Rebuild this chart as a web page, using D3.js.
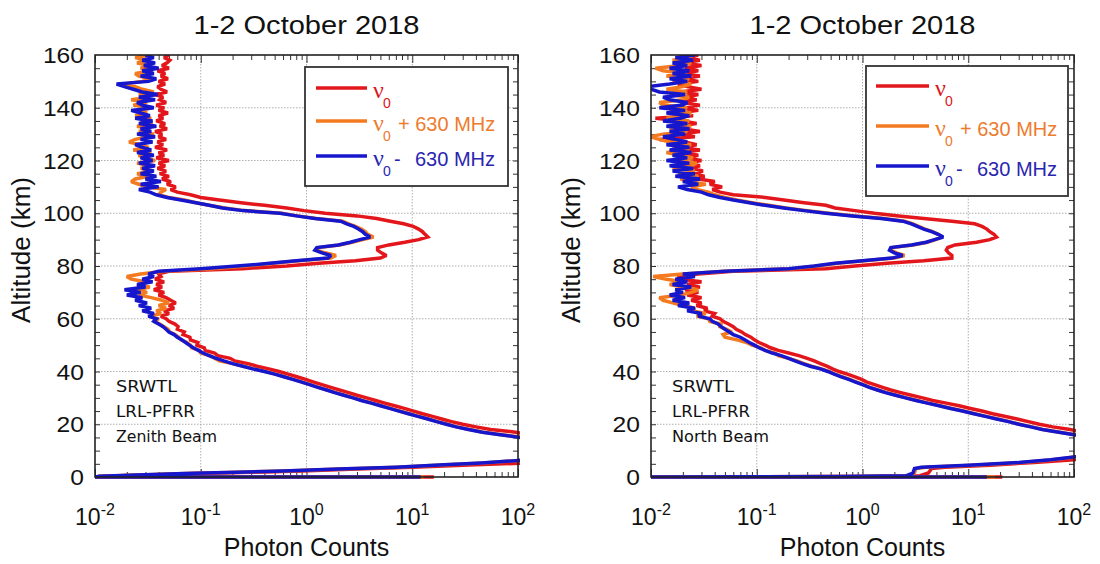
<!DOCTYPE html>
<html><head><meta charset="utf-8">
<script src="https://cdn.jsdelivr.net/npm/d3@7"></script>
<style>body{margin:0;background:#fff} svg{display:block}</style>
</head><body><svg id="c" width="1100" height="564"></svg>
<script>
// ---------------- DATA ----------------
const panelTitles = ["1-2 October 2018", "1-2 October 2018"];
const xTickExponents = [-2, -1, 0, 1, 2];
const yTicks = [0, 20, 40, 60, 80, 100, 120, 140, 160];
const notesZenith = ["SRWTL", "LRL-PFRR", "Zenith Beam"];
const notesNorth = ["SRWTL", "LRL-PFRR", "North Beam"];

// altitude samples (km)
const altLowZenith = [0,0,0.3,0.8,1.3,1.8,2.3,3,3.7,4.6,5.3,6.2,7];
const altLowNorth  = [0,0,0.2,0.5,1.5,3.2,3.7,4.5,5.5,6.5,7.5];
const altUpper = [8,9,10,11,12,13,14,15,16,17,18,19,20,21,22,23,24,25,26,27,28,29,30,31,32,33,34,35,36,37,38,39,40,
 41,42,43,44,45,46,47,48,49,50,51,52,53,54,55,56,57,58,59,60,61,62,63,64,65,66,67,68,69,70,71,72,73,74,75,76,77,78,79,80,
 81,82,83,84,85,86,87,88,89,90,91,92,93,94,95,96,97,98,99,100,101,102,103,104,105,106,107,108,109,110,111,112,113,114,115,
 116,117,118,119,120,121,122,123,124,125,126,127,128,129,130,131,132,133,134,135,136,137,138,139,140,141,142,143,144,145,
 146,147,148,149,150,151,152,153,154,155,156,157,158,159,160];

// Zenith beam photon counts
const zenithRed = [16,0.01,0.012,0.03,0.09,0.3,0.9,3,10,40,115,250,400,
 600,800,900,800,600,400,280,190,130,95,
 55,40,30,23.5,19,15.5,12.5,10.3,8.4,6.8,
 5.5,4.5,3.7,3.0,2.5,2.05,1.7,1.4,1.17,0.98,
 0.81,0.67,0.55,0.44,0.34,0.28,0.21,0.19,0.145,0.135,
 0.11,0.108,0.092,0.094,0.08,0.079,0.068,0.07,0.06,0.061,
 0.057,0.05,0.047,0.042,0.05,0.045,0.056,0.05,0.058,0.052,
 0.047,0.04,0.045,0.036,0.043,0.038,0.045,0.037,0.042,0.04,
 0.05,0.25,0.65,1.3,2.9,5.0,5.7,5.1,4.7,4.7,
 6.0,8.5,11.5,14,13.2,12.5,11.5,10.2,8.3,6.2,
 4.6,3.0,1.5,0.95,0.65,0.4,0.24,0.15,0.1,0.08,
 0.06,0.052,0.058,0.048,0.052,0.043,0.05,0.041,0.047,0.039,
 0.046,0.04,0.05,0.038,0.045,0.04,0.048,0.037,0.044,0.039,
 0.047,0.04,0.043,0.037,0.048,0.041,0.046,0.038,0.044,0.04,
 0.049,0.04,0.045,0.038,0.047,0.041,0.044,0.037,0.048,0.042,
 0.039,0.046,0.04,0.049,0.042,0.046,0.039,0.05,0.043,0.048,
 0.051,0.045,0.05];
const zenithOrange = [13,0.01,0.011,0.026,0.072,0.23,0.62,2.1,7.2,21,47,97,185,
 360,620,720,620,460,310,195,110,70,47,
 35,26.5,21.5,17.3,14.2,11.5,9.4,7.6,6.2,5.1,
 4.2,3.35,2.8,2.3,1.88,1.57,1.3,1.09,0.92,0.75,
 0.62,0.51,0.41,0.32,0.255,0.2,0.15,0.135,0.122,0.1,
 0.097,0.082,0.08,0.074,0.065,0.062,0.057,0.051,0.049,0.045,
 0.041,0.036,0.04,0.034,0.042,0.038,0.047,0.04,0.05,0.043,
 0.034,0.026,0.031,0.025,0.033,0.026,0.03,0.022,0.02,0.027,
 0.045,0.13,0.27,0.48,0.85,1.7,1.9,1.5,1.25,1.3,
 2.05,2.7,3.4,4.3,3.8,3.6,3.3,2.9,2.5,2.2,
 1.25,0.82,0.58,0.26,0.17,0.12,0.09,0.07,0.05,0.04,
 0.042,0.047,0.03,0.026,0.022,0.024,0.032,0.025,0.035,0.027,
 0.033,0.025,0.037,0.028,0.026,0.034,0.023,0.032,0.027,0.021,
 0.024,0.032,0.036,0.026,0.033,0.025,0.035,0.027,0.034,0.024,
 0.031,0.026,0.035,0.023,0.031,0.022,0.033,0.026,0.036,0.028,
 0.024,0.019,0.028,0.034,0.026,0.024,0.035,0.027,0.033,0.025,
 0.031,0.024,0.033];
const zenithBlue = [12,0.01,0.011,0.025,0.07,0.22,0.6,2,7,20,45,95,180,
 350,600,700,600,450,300,190,105,68,46,
 34,26,21,17,14,11.3,9.2,7.5,6.1,5.0,
 4.1,3.3,2.75,2.25,1.85,1.55,1.28,1.07,0.9,0.74,
 0.61,0.5,0.4,0.31,0.25,0.2,0.165,0.14,0.12,0.105,
 0.095,0.085,0.078,0.072,0.066,0.06,0.056,0.05,0.047,0.044,
 0.04,0.036,0.038,0.032,0.036,0.028,0.034,0.026,0.031,0.024,
 0.028,0.02,0.027,0.019,0.03,0.025,0.035,0.028,0.036,0.032,
 0.04,0.1,0.22,0.45,0.8,1.6,1.7,1.4,1.2,1.25,
 2.0,2.6,3.2,4.0,3.6,3.4,3.1,2.8,2.4,2.1,
 1.2,0.8,0.56,0.25,0.16,0.12,0.09,0.065,0.048,0.038,
 0.033,0.026,0.04,0.027,0.042,0.03,0.038,0.027,0.036,0.028,
 0.037,0.026,0.035,0.027,0.036,0.025,0.034,0.028,0.024,0.035,
 0.027,0.037,0.025,0.034,0.027,0.038,0.026,0.035,0.024,0.033,
 0.027,0.022,0.036,0.028,0.025,0.037,0.026,0.039,0.028,0.023,
 0.019,0.016,0.032,0.038,0.027,0.036,0.028,0.04,0.029,0.037,
 0.028,0.036,0.03];

// North beam photon counts
const northRed = [21,0.01,1.0,3.5,4.2,4.5,6,16,42,100,160,
 180,350,600,700,600,450,320,220,160,120,
 92,63,47,37,29,22,17,13.5,10.5,8.2,
 6.2,4.6,3.7,2.9,2.3,1.85,1.55,1.3,1.1,0.98,
 0.85,0.72,0.6,0.52,0.46,0.4,0.35,0.3,0.25,0.2,
 0.16,0.135,0.12,0.105,0.095,0.088,0.078,0.072,0.064,0.06,
 0.054,0.048,0.045,0.038,0.04,0.032,0.034,0.027,0.03,0.024,
 0.03,0.022,0.028,0.021,0.029,0.022,0.03,0.019,0.018,0.028,
 0.06,0.45,0.85,1.7,3.8,7.0,7.0,6.5,6.2,6.4,
 7.5,12,16,18.5,17.5,16,15,13.5,11.5,7,
 3.8,2.2,1.3,0.85,0.55,0.45,0.28,0.18,0.12,0.06,
 0.045,0.038,0.047,0.036,0.04,0.028,0.032,0.025,0.031,0.024,
 0.029,0.022,0.03,0.021,0.028,0.02,0.029,0.019,0.027,0.021,
 0.012,0.026,0.019,0.029,0.02,0.017,0.027,0.02,0.011,0.025,
 0.018,0.028,0.02,0.029,0.019,0.027,0.021,0.028,0.019,0.03,
 0.022,0.018,0.028,0.02,0.029,0.019,0.028,0.021,0.03,0.02,
 0.029,0.022,0.028];
const northOrange = [18,0.01,0.8,2.8,3.1,3.2,4.0,11,32,63,98,
 140,310,520,560,460,330,225,155,105,73,
 51,40,30.5,24.5,19,14.8,11.5,9,7,5.4,
 4.2,3.3,2.6,2.1,1.7,1.4,1.18,1.02,0.88,0.76,
 0.64,0.55,0.48,0.41,0.33,0.28,0.24,0.2,0.16,0.15,
 0.12,0.11,0.09,0.08,0.065,0.05,0.048,0.058,0.052,0.045,
 0.046,0.036,0.035,0.027,0.033,0.024,0.026,0.02,0.016,0.013,
 0.012,0.019,0.024,0.028,0.02,0.015,0.02,0.014,0.0105,0.02,
 0.05,0.22,0.37,0.58,1.05,2.0,2.5,2.1,1.85,1.9,
 3.0,4.1,4.9,5.7,5.2,4.6,3.9,3.4,3.0,2.5,
 1.6,0.85,0.48,0.3,0.19,0.13,0.09,0.065,0.05,0.04,
 0.035,0.027,0.024,0.033,0.022,0.019,0.028,0.018,0.026,0.016,
 0.024,0.027,0.017,0.025,0.019,0.014,0.023,0.016,0.024,0.015,
 0.012,0.0098,0.013,0.022,0.015,0.024,0.016,0.023,0.014,0.021,
 0.024,0.015,0.022,0.013,0.012,0.02,0.023,0.015,0.022,0.014,
 0.02,0.024,0.016,0.023,0.014,0.022,0.013,0.011,0.019,0.024,
 0.016,0.023,0.025];
const northBlue = [15,0.01,0.6,2.6,3.0,3.1,3.6,10,30,60,95,
 130,300,500,550,450,320,220,150,100,72,
 50,39,30,24,18.5,14.5,11.3,8.8,6.8,5.3,
 4.1,3.2,2.55,2.05,1.65,1.38,1.16,1.0,0.86,0.74,
 0.63,0.54,0.47,0.4,0.32,0.27,0.23,0.2,0.17,0.14,
 0.12,0.105,0.095,0.085,0.077,0.07,0.06,0.055,0.05,0.046,
 0.043,0.038,0.036,0.028,0.03,0.022,0.026,0.018,0.023,0.016,
 0.021,0.015,0.02,0.017,0.024,0.016,0.022,0.017,0.026,0.02,
 0.05,0.2,0.35,0.55,1.0,1.9,2.4,2.0,1.8,1.85,
 2.9,4.0,4.8,5.8,5.2,4.5,3.8,3.3,2.9,2.4,
 1.5,0.8,0.45,0.28,0.18,0.12,0.085,0.06,0.045,0.035,
 0.03,0.022,0.018,0.028,0.02,0.029,0.017,0.026,0.016,0.025,
 0.015,0.023,0.014,0.022,0.016,0.024,0.015,0.023,0.014,0.022,
 0.017,0.013,0.021,0.015,0.023,0.014,0.022,0.013,0.019,0.023,
 0.014,0.021,0.012,0.02,0.022,0.015,0.013,0.021,0.012,0.01,
 0.0095,0.015,0.022,0.015,0.024,0.016,0.023,0.015,0.022,0.016,
 0.025,0.017,0.026];

// ---------------- STYLE ----------------
const colors = ["#e3171b", "#f47a20", "#1616cc"];
const textColors = ["#d9161c", "#ee7b2e", "#2a25b0"];
const FONT = "'Liberation Sans', Arial, Helvetica, sans-serif";

const svg = d3.select("#c");
const yTop = 55, yBot = 477;

const panels = [
  {x0: 95, x1: 518, title: panelTitles[0], alt: altLowZenith.concat(altUpper),
   series: [zenithRed, zenithOrange, zenithBlue], notes: notesZenith, noteX: 116,
   noteW: [61, 79, 101],
   legend: {x: 305, y: 67, w: 203, h: 119, rows: [88, 121, 156], lx0: 316, lx1: 367},
   yLabelX: 30},
  {x0: 651, x1: 1074, title: panelTitles[1], alt: altLowNorth.concat(altUpper),
   series: [northRed, northOrange, northBlue], notes: notesNorth, noteX: 672,
   noteW: [62, 78, 97],
   legend: {x: 866, y: 66, w: 202, h: 130, rows: [86, 126, 166], lx0: 876, lx1: 929},
   yLabelX: 580}
];

panels.forEach((p, pi) => {
  const g = svg.append("g");
  const x = d3.scaleLog().domain([1e-2, 1e2]).range([p.x0, p.x1]);
  const y = d3.scaleLinear().domain([0, 160]).range([yBot, yTop]);

  // grid
  const grid = g.append("g").attr("stroke", "#9a9a9a").attr("stroke-width", 0.8).attr("stroke-dasharray", "1.5,1.5");
  [1e-1, 1, 10].forEach(v => grid.append("line").attr("x1", x(v)).attr("x2", x(v)).attr("y1", yTop).attr("y2", yBot));
  yTicks.slice(1, -1).forEach(v => grid.append("line").attr("x1", p.x0).attr("x2", p.x1).attr("y1", y(v)).attr("y2", y(v)));

  // axes via d3 (inward ticks)
  const minorX = [];
  for (let e = -2; e < 2; e++) for (let m = 2; m <= 9; m++) minorX.push(m * Math.pow(10, e));
  const majX = xTickExponents.map(e => Math.pow(10, e));
  const ax = (sel, axis) => { sel.call(axis); sel.select(".domain").remove(); sel.selectAll("text").remove(); sel.selectAll("line").attr("stroke", "#333").attr("stroke-width", 1); };
  g.append("g").attr("transform", `translate(0,${yBot})`).call(s => ax(s, d3.axisTop(x).tickValues(majX).tickSize(8)));
  g.append("g").attr("transform", `translate(0,${yBot})`).call(s => ax(s, d3.axisTop(x).tickValues(minorX).tickSize(5)));
  g.append("g").attr("transform", `translate(0,${yTop})`).call(s => ax(s, d3.axisBottom(x).tickValues(majX).tickSize(8)));
  g.append("g").attr("transform", `translate(0,${yTop})`).call(s => ax(s, d3.axisBottom(x).tickValues(minorX).tickSize(5)));
  const minorY = d3.range(5, 160, 5);
  g.append("g").attr("transform", `translate(${p.x0},0)`).call(s => ax(s, d3.axisRight(y).tickValues(minorY).tickSize(5)));
  g.append("g").attr("transform", `translate(${p.x1},0)`).call(s => ax(s, d3.axisLeft(y).tickValues(minorY).tickSize(5)));

  // data
  const clipId = "clip" + pi;
  svg.append("clipPath").attr("id", clipId).append("rect")
    .attr("x", p.x0).attr("y", yTop).attr("width", p.x1 - p.x0 + 2).attr("height", yBot - yTop + 2);
  const line = d3.line().x(d => x(d[1])).y(d => y(d[0]));
  const dg = g.append("g").attr("clip-path", `url(#${clipId})`);
  p.series.forEach((vals, si) => {
    const pts = p.alt.map((a, i) => [a, vals[i]]);
    dg.append("path").attr("d", line(pts)).attr("fill", "none")
      .attr("stroke", colors[si]).attr("stroke-width", 3.5).attr("stroke-linejoin", "miter").attr("stroke-miterlimit", 2);
  });

  // frame
  g.append("rect").attr("x", p.x0).attr("y", yTop).attr("width", p.x1 - p.x0).attr("height", yBot - yTop)
    .attr("fill", "none").attr("stroke", "#222").attr("stroke-width", 1.6);

  // y tick labels
  yTicks.forEach(v => g.append("text").attr("transform", `translate(${p.x0 - 11},${y(v) + 8}) scale(1.12,1)`)
    .attr("text-anchor", "end").attr("font-family", FONT).attr("font-size", 22).attr("fill", "#111").text(v));
  // x tick labels
  xTickExponents.forEach(e => {
    const t = g.append("text").attr("x", x(Math.pow(10, e))).attr("y", 525)
      .attr("text-anchor", "middle").attr("font-family", FONT).attr("font-size", 23).attr("fill", "#111");
    t.append("tspan").text("10");
    t.append("tspan").attr("dy", -10).attr("font-size", 16).text(String(e));
  });
  // axis titles
  g.append("text").attr("x", (p.x0 + p.x1) / 2).attr("y", 556).attr("text-anchor", "middle")
    .attr("font-family", FONT).attr("font-size", 25).attr("fill", "#111").text("Photon Counts");
  g.append("text").attr("transform", `translate(${p.yLabelX},${(yTop + yBot) / 2 - 16}) rotate(-90)`)
    .attr("text-anchor", "middle").attr("font-family", FONT).attr("font-size", 26).attr("fill", "#111").text("Altitude (km)");
  // title
  g.append("text").attr("x", (p.x0 + p.x1) / 2).attr("y", 34).attr("text-anchor", "middle")
    .attr("font-family", FONT).attr("font-size", 26).attr("textLength", 226).attr("lengthAdjust", "spacingAndGlyphs")
    .attr("fill", "#111").text(p.title);

  // notes
  p.notes.forEach((s, i) => g.append("text").attr("x", p.noteX).attr("y", 392 + i * 25)
    .attr("font-family", "'DejaVu Sans', sans-serif").attr("font-size", 16).attr("fill", "#111")
    .attr("textLength", p.noteW[i]).attr("lengthAdjust", "spacingAndGlyphs").text(s));

  // legend
  const L = p.legend;
  g.append("rect").attr("x", L.x).attr("y", L.y).attr("width", L.w).attr("height", L.h)
    .attr("fill", "#fff").attr("stroke", "#333").attr("stroke-width", 1.8);
  L.rows.forEach((ry, si) => {
    g.append("line").attr("x1", L.lx0).attr("x2", L.lx1).attr("y1", ry).attr("y2", ry)
      .attr("stroke", colors[si]).attr("stroke-width", 3.6);
    const nx = L.lx1 + 6;
    g.append("text").attr("x", nx).attr("y", ry + 10).attr("font-family", "'Liberation Serif', serif")
      .attr("font-size", 24).attr("fill", textColors[si]).text("ν");
    g.append("text").attr("x", nx + 10).attr("y", ry + 20).attr("font-family", FONT)
      .attr("font-size", 14).attr("fill", textColors[si]).text("0");
    if (si === 1) {
      g.append("text").attr("x", nx + 25).attr("y", ry + 10).attr("font-family", FONT)
        .attr("font-size", 20).attr("fill", textColors[si]).text("+ 630 MHz");
    } else if (si === 2) {
      g.append("text").attr("x", nx + 21).attr("y", ry + 10).attr("font-family", FONT)
        .attr("font-size", 20).attr("fill", textColors[si]).text("-");
      g.append("text").attr("x", nx + 42).attr("y", ry + 10).attr("font-family", FONT)
        .attr("font-size", 20).attr("fill", textColors[si]).text("630 MHz");
    }
  });
});
</script></body></html>
